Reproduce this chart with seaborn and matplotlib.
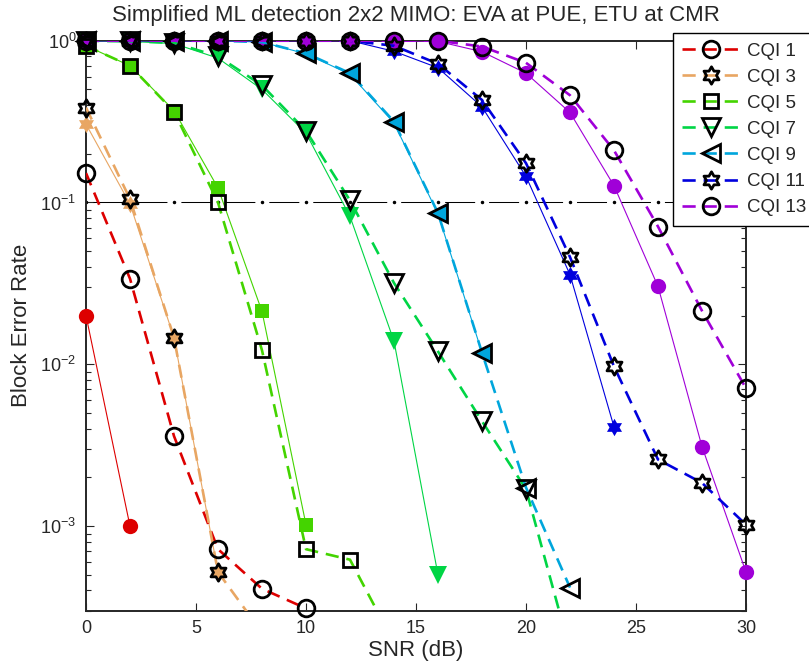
import numpy as np
import pandas as pd
import matplotlib
matplotlib.use('Agg')
import matplotlib.pyplot as plt
from matplotlib.path import Path
from matplotlib.lines import Line2D
import seaborn as sns

# SNR grid (dB)
snr = [0, 2, 4, 6, 8, 10, 12, 14, 16, 18, 20, 22, 24, 26, 28, 30]

# dashed curves (open black markers), values start at SNR 0
cqi1_dash = [0.152, 0.0338, 0.0036, 7.2e-4, 4.1e-4, 3.1e-4]
cqi3_dash = [0.386, 0.105, 0.0146, 5.2e-4, 2.2e-4]
cqi5_dash = [0.93, 0.70, 0.365, 0.10, 0.0122, 7.2e-4, 6.2e-4, 1.9e-4]
cqi7_dash = [1.0, 0.99, 0.97, 0.80, 0.53, 0.277, 0.103, 0.0318, 0.012, 4.45e-3, 1.69e-3, 1.7e-4]
cqi9_dash = [1.0, 1.0, 1.0, 1.0, 0.98, 0.836, 0.63, 0.316, 0.086, 0.0118, 1.73e-3, 4.17e-4]
cqi11_dash = [1.0, 1.0, 1.0, 1.0, 1.0, 1.0, 1.0, 0.93, 0.72, 0.43, 0.175, 0.046, 9.7e-3, 2.58e-3, 1.85e-3, 1.02e-3]
cqi13_dash = [1.0, 1.0, 1.0, 1.0, 1.0, 1.0, 1.0, 1.0, 1.0, 0.92, 0.73, 0.46, 0.21, 0.071, 0.0214, 7.1e-3]

# solid curves (filled coloured markers)
cqi1_solid = [0.02, 1.0e-3]
cqi3_solid = [0.305, 0.098, 0.0146, 5.2e-4]
cqi5_solid = [0.93, 0.70, 0.37, 0.123, 0.0212, 1.02e-3]
cqi7_solid = [1.0, 0.99, 0.96, 0.78, 0.50, 0.268, 0.082, 0.0139, 5.0e-4]
cqi9_solid = [1.0, 1.0, 1.0, 1.0, 0.98, 0.83, 0.62, 0.31, 0.085, 0.0118]
cqi11_solid = [1.0, 1.0, 1.0, 1.0, 1.0, 1.0, 1.0, 0.86, 0.68, 0.39, 0.145, 0.0358, 4.1e-3]
cqi13_solid = [1.0, 1.0, 1.0, 1.0, 1.0, 1.0, 1.0, 1.0, 0.99, 0.855, 0.63, 0.36, 0.127, 0.0303, 3.1e-3, 5.2e-4]

labels = ['CQI 1', 'CQI 3', 'CQI 5', 'CQI 7', 'CQI 9', 'CQI 11', 'CQI 13']
bler_target = 0.1

hexagram = Path.unit_regular_star(6, 0.577)
colors = ['#DD0000', '#E8A663', '#44D400', '#00D545', '#00A6DC', '#0000DD', '#A000D8']
markers = ['o', hexagram, 's', 'v', '<', hexagram, 'o']
msizes = [12, 12.5, 9.5, 12.5, 12.5, 12.5, 12]
dashed = [cqi1_dash, cqi3_dash, cqi5_dash, cqi7_dash, cqi9_dash, cqi11_dash, cqi13_dash]
solid = [cqi1_solid, cqi3_solid, cqi5_solid, cqi7_solid, cqi9_solid, cqi11_solid, cqi13_solid]

sns.set_style('ticks')
plt.rcParams['font.family'] = ['Liberation Sans', 'DejaVu Sans']
plt.rcParams['mathtext.fontset'] = 'custom'
plt.rcParams['mathtext.rm'] = 'Liberation Sans'
plt.rcParams['mathtext.it'] = 'Liberation Sans:italic'

ymin, ymax = 3e-4, 1.0
dash_ls = (0, (5, 3))

fig = plt.figure(figsize=(8.09, 6.69), dpi=100)
ax = fig.add_axes([86/809, 1 - 610.7/669, 660/809, 570/669])
ax.set_yscale('log')

def draw(ys, color, ls, lw, mk, ms, mfc, mec, mew, z):
    xs = snr[:len(ys)]
    sns.lineplot(x=xs, y=ys, ax=ax, color=color, linestyle=ls, lw=lw,
                 estimator=None, sort=False, legend=False, zorder=z)
    keep = [(x, y) for x, y in zip(xs, ys) if y >= ymin]
    sns.lineplot(x=[k[0] for k in keep], y=[k[1] for k in keep], ax=ax,
                 color=color, linestyle='none', marker=mk, markersize=ms,
                 markerfacecolor=mfc, markeredgecolor=mec, markeredgewidth=mew,
                 estimator=None, sort=False, legend=False, clip_on=False, zorder=z + 0.5)

# solid curves first, then dashed ones on top
for i in range(len(labels)):
    fs = msizes[i] - 1 if markers[i] == 'o' else msizes[i]
    draw(solid[i], colors[i], '-', 0.8, markers[i], fs, colors[i], colors[i], 0, 3)
for i in range(len(labels)):
    draw(dashed[i], colors[i], dash_ls, 1.9, markers[i], msizes[i], 'none', 'k', 2.0, 5)

# BLER target line
ax.plot(snr, [bler_target] * len(snr), color='k', lw=0.75,
        linestyle=(35.5, (28.8, 13.4)), marker='.', markersize=3, zorder=2)

ax.set_xlim(0, 30)
ax.set_ylim(ymin, ymax)
ax.set_xticks([0, 5, 10, 15, 20, 25, 30])
ax.tick_params(which='both', direction='in', top=True, right=True, labelsize=13, width=0.8)
ax.tick_params(which='major', length=6, pad=7)
ax.tick_params(which='minor', length=3.5)
for s in ax.spines.values():
    s.set_linewidth(1.4)

ax.set_title('Simplified ML detection 2x2 MIMO: EVA at PUE, ETU at CMR', fontsize=16, pad=14)
ax.set_xlabel('SNR (dB)', fontsize=16, labelpad=2)
ax.set_ylabel('Block Error Rate', fontsize=16, labelpad=6)

handles = [Line2D([], [], color=c, lw=1.9, linestyle=dash_ls, marker=m, markersize=s,
                  markerfacecolor='none', markeredgecolor='k', markeredgewidth=2.0)
           for c, m, s in zip(colors, markers, msizes)]
leg = ax.legend(handles, labels, loc='upper left', bbox_to_anchor=(673/809, 1 - 33/669),
                bbox_transform=fig.transFigure, fontsize=13.5, frameon=True, fancybox=False,
                edgecolor='k', framealpha=1, borderaxespad=0, handlelength=3.1,
                labelspacing=0.48, borderpad=0.5, handletextpad=0.35)
leg.get_frame().set_linewidth(1.0)
leg.set_zorder(10)

fig.savefig('out.png', dpi=100)
